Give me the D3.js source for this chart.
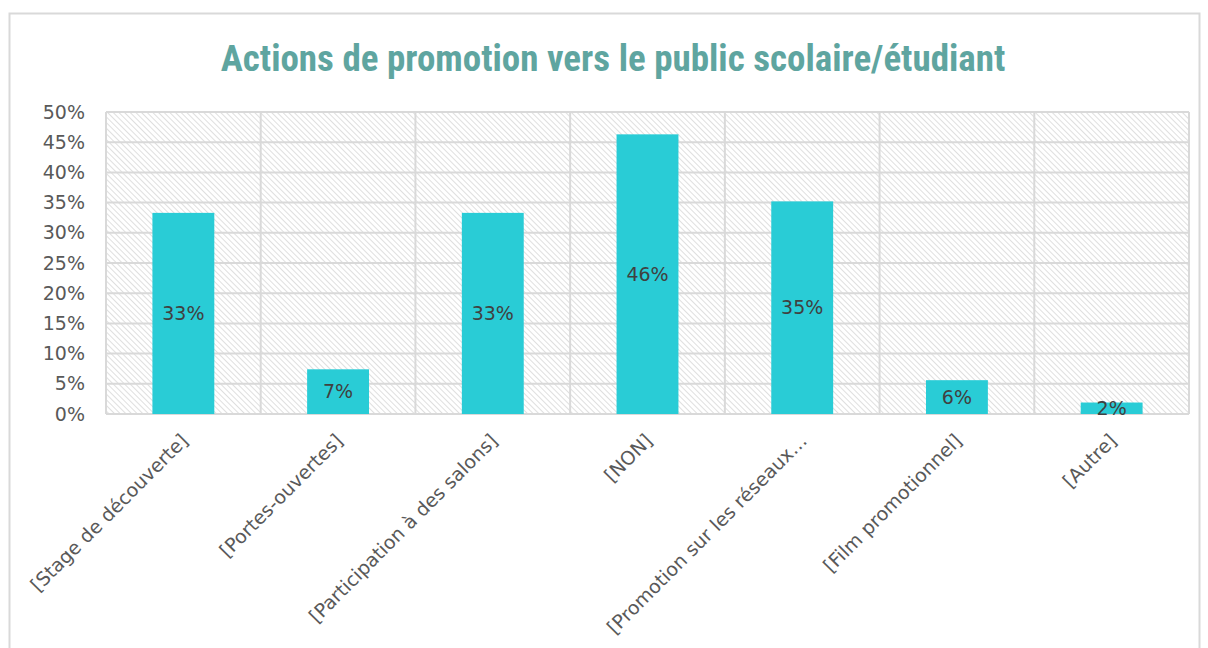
<!DOCTYPE html>
<html>
<head>
<meta charset="utf-8">
<script src="https://cdn.jsdelivr.net/npm/d3@7"></script>
<style>
  body { margin: 0; background: #fff; }
  svg { display: block; }
</style>
</head>
<body>
<svg id="chart" width="1208" height="648"></svg>
<script>
// data
var categories = ["[Stage de découverte]", "[Portes-ouvertes]", "[Participation à des salons]",
  "[NON]", "[Promotion sur les réseaux…", "[Film promotionnel]", "[Autre]"];
var values = [0.333, 0.074, 0.333, 0.463, 0.352, 0.056, 0.019];
var yTicks = [0, 0.05, 0.1, 0.15, 0.2, 0.25, 0.3, 0.35, 0.4, 0.45, 0.5];
var title = "Actions de promotion vers le public scolaire/étudiant";

var svg = d3.select('#chart');
var font = "'DejaVu Sans', 'Noto Sans', sans-serif";

var plot = { left: 106, top: 112, right: 1189, bottom: 414 };

// outer frame
svg.append('rect')
  .attr('x', 9.5).attr('y', 13.5)
  .attr('width', 1190).attr('height', 660)
  .attr('fill', '#fff')
  .attr('stroke', '#d9d9d9').attr('stroke-width', 2);

// hatch pattern for the plot background
var defs = svg.append('defs');
var pat = defs.append('pattern')
  .attr('id', 'hatch')
  .attr('patternUnits', 'userSpaceOnUse')
  .attr('width', 4).attr('height', 4)
  .attr('patternTransform', 'rotate(-45)');
pat.append('rect').attr('width', 4).attr('height', 4).attr('fill', '#fff');
pat.append('line')
  .attr('x1', 0).attr('y1', 0).attr('x2', 0).attr('y2', 4)
  .attr('stroke', '#d2d2d2').attr('stroke-width', 1.4);

var x = d3.scaleBand()
  .domain(categories)
  .range([plot.left, plot.right])
  .paddingInner(0).paddingOuter(0);

var y = d3.scaleLinear()
  .domain([0, 0.5])
  .range([plot.bottom, plot.top]);

svg.append('rect')
  .attr('x', plot.left).attr('y', plot.top)
  .attr('width', plot.right - plot.left)
  .attr('height', plot.bottom - plot.top)
  .attr('fill', 'url(#hatch)');

// grid lines
svg.append('g')
  .selectAll('line.h')
  .data(yTicks)
  .enter().append('line')
  .attr('x1', plot.left).attr('x2', plot.right)
  .attr('y1', d => y(d)).attr('y2', d => y(d))
  .attr('stroke', '#d9d9d9').attr('stroke-width', 2);

var edges = categories.map(c => x(c)).concat([plot.right]);
svg.append('g')
  .selectAll('line.v')
  .data(edges)
  .enter().append('line')
  .attr('x1', d => d).attr('x2', d => d)
  .attr('y1', plot.top).attr('y2', plot.bottom)
  .attr('stroke', '#d9d9d9').attr('stroke-width', 2);

// y axis labels
var yAxis = d3.axisLeft(y)
  .tickValues(yTicks)
  .tickFormat(d3.format('.0%'))
  .tickSize(0)
  .tickPadding(21);
var gy = svg.append('g')
  .attr('transform', 'translate(' + plot.left + ',0)')
  .call(yAxis);
gy.select('.domain').remove();
gy.selectAll('text')
  .attr('font-family', font)
  .attr('font-size', 19)
  .attr('fill', '#595959');

// bars
var barW = x.bandwidth() * 0.4;
svg.append('g')
  .selectAll('rect')
  .data(values)
  .enter().append('rect')
  .attr('x', (d, i) => x(categories[i]) + (x.bandwidth() - barW) / 2)
  .attr('y', d => y(d))
  .attr('width', barW)
  .attr('height', d => y(0) - y(d))
  .attr('fill', '#29ccd6');

// data labels
svg.append('g')
  .selectAll('text')
  .data(values)
  .enter().append('text')
  .attr('x', (d, i) => x(categories[i]) + x.bandwidth() / 2)
  .attr('y', d => (y(d) + y(0)) / 2)
  .attr('dy', '0.35em')
  .attr('text-anchor', 'middle')
  .attr('font-family', font)
  .attr('font-size', 19)
  .attr('fill', '#404040')
  .text(d => Math.round(d * 100) + '%');

// x axis labels, rotated
var xAxis = d3.axisBottom(x).tickSize(0).tickPadding(0);
var gx = svg.append('g')
  .attr('transform', 'translate(0,' + plot.bottom + ')')
  .call(xAxis);
gx.select('.domain').remove();
gx.selectAll('text')
  .attr('font-family', font)
  .attr('font-size', 19)
  .attr('fill', '#595959')
  .attr('text-anchor', 'end')
  .attr('y', 0).attr('dy', 0)
  .attr('transform', 'translate(6,28) rotate(-45)');

// title
svg.append('text')
  .attr('x', 613).attr('y', 71)
  .attr('text-anchor', 'middle')
  .attr('font-family', "'Liberation Sans Narrow', 'Roboto', sans-serif")
  .attr('font-stretch', 'condensed')
  .attr('font-weight', 'bold')
  .attr('font-size', 37)
  .attr('fill', '#5fa5a0')
  .text(title);
</script>
</body>
</html>
